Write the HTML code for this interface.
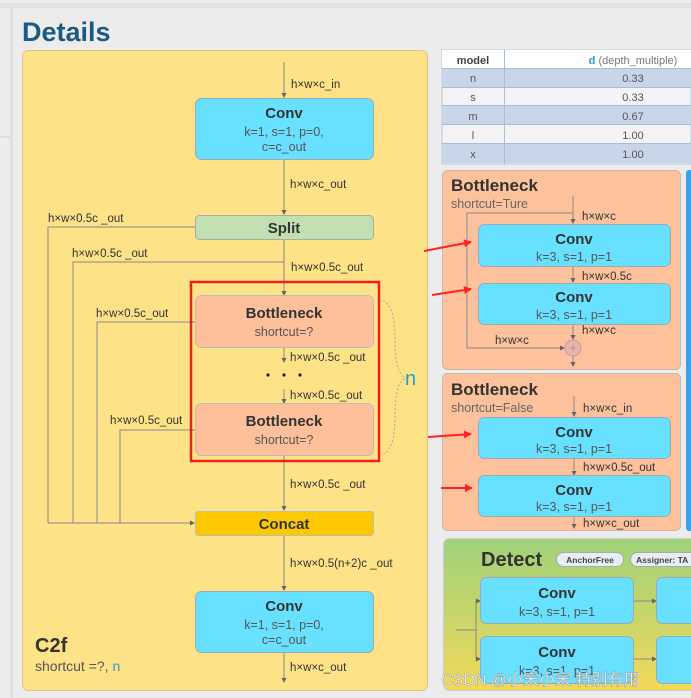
<!DOCTYPE html>
<html><head><meta charset="utf-8"><style>
html,body{margin:0;padding:0;background:#ececec;}
svg{display:block;font-family:"Liberation Sans","Noto Sans CJK SC",sans-serif;}
.l{font-size:11.5px;fill:#333;}
.b{font-weight:bold;fill:#333;}
.s{fill:#555;font-size:12.5px;}
</style></head><body>
<svg width="691" height="698" viewBox="0 0 691 698" xmlns="http://www.w3.org/2000/svg">
<defs>
<linearGradient id="g" x1="0" y1="0" x2="0" y2="1"><stop offset="0" stop-color="#9fd27a"/><stop offset="1" stop-color="#f2d85a"/></linearGradient>
<marker id="a" markerWidth="5" markerHeight="5" refX="4" refY="2.5" orient="auto"><path d="M0,0L5,2.5L0,5z" fill="#666"/></marker>
<marker id="r" markerWidth="8" markerHeight="8" refX="7" refY="4" orient="auto" markerUnits="userSpaceOnUse"><path d="M0,0L8,4L0,8z" fill="#f22"/></marker>
</defs>
<rect x="0" y="0" width="691" height="698" fill="#ececec"/>
<rect x="0" y="3" width="691" height="5" fill="#e2e2e2"/>
<rect x="10" y="8" width="3" height="690" fill="#e0e0e0"/>
<rect x="0" y="136" width="10" height="2" fill="#e0e0e0"/>
<text x="22" y="41" font-size="27" font-weight="bold" fill="#1c5a85">Details</text>

<rect x="22.5" y="50.5" width="405" height="640" rx="6" fill="#fee287" stroke="#d8c58a"/>
<g stroke="#888" stroke-width="1" fill="none">
<line x1="284" y1="62" x2="284" y2="97" marker-end="url(#a)"/>
<line x1="284" y1="159" x2="284" y2="214" marker-end="url(#a)"/>
<line x1="284" y1="239" x2="284" y2="295" marker-end="url(#a)"/>
<line x1="284" y1="347" x2="284" y2="362" marker-end="url(#a)"/>
<line x1="284" y1="389" x2="284" y2="403" marker-end="url(#a)"/>
<line x1="284" y1="455" x2="284" y2="510" marker-end="url(#a)"/>
<line x1="284" y1="535" x2="284" y2="590" marker-end="url(#a)"/>
<line x1="284" y1="652" x2="284" y2="682" marker-end="url(#a)"/>
<polyline points="195,227 48,227 48,523"/>
<polyline points="284,262 73,262 73,523"/>
<polyline points="195,322 97,322 97,523"/>
<polyline points="195,430 120,430 120,523"/>
<line x1="48" y1="523" x2="194" y2="523" marker-end="url(#a)"/>
<path d="M379,300 Q395,300 395,340 Q395,378 408,378 M379,455 Q395,455 395,416 Q395,378 408,378" stroke="#aaa" stroke-dasharray="2,2"/>
</g>
<rect x="195.5" y="98.5" width="178" height="61" rx="6" fill="#67e1ff" stroke="#9ab"/>
<text x="284" y="118" text-anchor="middle" font-size="15" class="b">Conv</text>
<text x="284" y="136" text-anchor="middle" class="s">k=1, s=1, p=0,</text>
<text x="284" y="151" text-anchor="middle" class="s">c=c_out</text>
<rect x="195.5" y="215.5" width="178" height="24" rx="4" fill="#c1e0b2" stroke="#aaa"/>
<text x="284" y="233" text-anchor="middle" font-size="15" class="b">Split</text>
<rect x="195.5" y="295.5" width="178" height="52" rx="6" fill="#fdc09a" stroke="#bbb"/>
<text x="284" y="318" text-anchor="middle" font-size="15" class="b">Bottleneck</text>
<text x="284" y="336" text-anchor="middle" class="s">shortcut=?</text>
<rect x="195.5" y="403.5" width="178" height="52" rx="6" fill="#fdc09a" stroke="#bbb"/>
<text x="284" y="426" text-anchor="middle" font-size="15" class="b">Bottleneck</text>
<text x="284" y="444" text-anchor="middle" class="s">shortcut=?</text>
<rect x="191" y="282" width="188" height="179" fill="none" stroke="#f21d1d" stroke-width="2.5"/>
<circle cx="268" cy="375" r="1.6" fill="#222"/><circle cx="284" cy="375" r="1.6" fill="#222"/><circle cx="300" cy="375" r="1.6" fill="#222"/>
<rect x="195.5" y="511.5" width="178" height="24" rx="3" fill="#fcc800" stroke="#bbb"/>
<text x="284" y="529" text-anchor="middle" font-size="15" class="b">Concat</text>
<rect x="195.5" y="591.5" width="178" height="61" rx="6" fill="#67e1ff" stroke="#9ab"/>
<text x="284" y="611" text-anchor="middle" font-size="15" class="b">Conv</text>
<text x="284" y="629" text-anchor="middle" class="s">k=1, s=1, p=0,</text>
<text x="284" y="644" text-anchor="middle" class="s">c=c_out</text>
<g class="l">
<text x="291" y="88">h×w×c_in</text>
<text x="290" y="188">h×w×c_out</text>
<text x="48" y="222">h×w×0.5c _out</text>
<text x="72" y="257">h×w×0.5c _out</text>
<text x="291" y="271">h×w×0.5c_out</text>
<text x="96" y="317">h×w×0.5c_out</text>
<text x="290" y="361">h×w×0.5c _out</text>
<text x="290" y="399">h×w×0.5c_out</text>
<text x="110" y="424">h×w×0.5c_out</text>
<text x="290" y="488">h×w×0.5c _out</text>
<text x="290" y="567">h×w×0.5(n+2)c _out</text>
<text x="290" y="671">h×w×c_out</text>
</g>
<text x="405" y="385" font-size="20" fill="#2a9ccc">n</text>
<text x="35" y="652" font-size="20" class="b">C2f</text>
<text x="35" y="671" font-size="14" fill="#555">shortcut =?, <tspan fill="#2a9ccc">n</tspan></text>

<rect x="442" y="50" width="249" height="114" fill="#f3f3f3" stroke="#b8c8e0"/>
<rect x="442" y="50" width="249" height="18" fill="#fff"/>
<rect x="442" y="69" width="249" height="18" fill="#c9d6ea"/>
<rect x="442" y="106" width="249" height="18" fill="#c9d6ea"/>
<rect x="442" y="144" width="249" height="19" fill="#c9d6ea"/>
<g stroke="#a8bcdc"><line x1="442" y1="68.5" x2="691" y2="68.5"/><line x1="442" y1="87.5" x2="691" y2="87.5"/><line x1="442" y1="105.5" x2="691" y2="105.5"/><line x1="442" y1="124.5" x2="691" y2="124.5"/><line x1="442" y1="143.5" x2="691" y2="143.5"/><line x1="504.5" y1="50" x2="504.5" y2="164"/></g>
<g font-size="11" fill="#555" text-anchor="middle">
<text x="473" y="64" font-weight="bold" fill="#444">model</text>
<text x="633" y="64" fill="#777"><tspan fill="#2a9ccc" font-weight="bold">d</tspan> (depth_multiple)</text>
<text x="473" y="82">n</text><text x="633" y="82">0.33</text>
<text x="473" y="101">s</text><text x="633" y="101">0.33</text>
<text x="473" y="120">m</text><text x="633" y="120">0.67</text>
<text x="473" y="139">l</text><text x="633" y="139">1.00</text>
<text x="473" y="158">x</text><text x="633" y="158">1.00</text>
</g>

<rect x="686" y="170" width="8" height="361" rx="3" fill="#3aa0e8"/>
<rect x="442.5" y="170.5" width="238" height="199" rx="5" fill="#fdc29c" stroke="#d0b8a8"/>
<text x="451" y="191" font-size="17" class="b">Bottleneck</text>
<text x="451" y="208" font-size="12.5" fill="#666">shortcut=Ture</text>
<g stroke="#888" fill="none">
<line x1="573" y1="196" x2="573" y2="223" marker-end="url(#a)"/>
<line x1="573" y1="266" x2="573" y2="282" marker-end="url(#a)"/>
<line x1="573" y1="324" x2="573" y2="339" marker-end="url(#a)"/>
<line x1="573" y1="356" x2="573" y2="366" marker-end="url(#a)"/>
<polyline points="573,213 467,213 467,348 564,348" marker-end="url(#a)"/>
</g>
<circle cx="573" cy="348" r="8" fill="#e8b4b0" stroke="#c99"/>
<text x="573" y="352" text-anchor="middle" font-size="13" fill="#b88">+</text>
<rect x="478.5" y="224.5" width="192" height="42" rx="6" fill="#67e1ff" stroke="#9ab"/>
<text x="574" y="244" text-anchor="middle" font-size="15" class="b">Conv</text>
<text x="574" y="261" text-anchor="middle" class="s">k=3, s=1, p=1</text>
<rect x="478.5" y="283.5" width="192" height="41" rx="6" fill="#67e1ff" stroke="#9ab"/>
<text x="574" y="302" text-anchor="middle" font-size="15" class="b">Conv</text>
<text x="574" y="319" text-anchor="middle" class="s">k=3, s=1, p=1</text>
<g class="l"><text x="582" y="220">h×w×c</text><text x="582" y="280">h×w×0.5c</text><text x="582" y="334">h×w×c</text><text x="495" y="344">h×w×c</text></g>

<rect x="442.5" y="373.5" width="238" height="157" rx="5" fill="#fdc29c" stroke="#d0b8a8"/>
<text x="451" y="395" font-size="17" class="b">Bottleneck</text>
<text x="451" y="412" font-size="12.5" fill="#666">shortcut=False</text>
<g stroke="#888" fill="none">
<line x1="574" y1="396" x2="574" y2="416" marker-end="url(#a)"/>
<line x1="574" y1="458" x2="574" y2="475" marker-end="url(#a)"/>
<line x1="574" y1="516" x2="574" y2="528" marker-end="url(#a)"/>
</g>
<rect x="478.5" y="417.5" width="192" height="41" rx="6" fill="#67e1ff" stroke="#9ab"/>
<text x="574" y="437" text-anchor="middle" font-size="15" class="b">Conv</text>
<text x="574" y="453" text-anchor="middle" class="s">k=3, s=1, p=1</text>
<rect x="478.5" y="475.5" width="192" height="41" rx="6" fill="#67e1ff" stroke="#9ab"/>
<text x="574" y="495" text-anchor="middle" font-size="15" class="b">Conv</text>
<text x="574" y="511" text-anchor="middle" class="s">k=3, s=1, p=1</text>
<g class="l"><text x="583" y="412">h×w×c_in</text><text x="583" y="471">h×w×0.5c_out</text><text x="583" y="527">h×w×c_out</text></g>

<g stroke="#f22" stroke-width="2">
<line x1="424" y1="251" x2="471" y2="242" marker-end="url(#r)"/>
<line x1="432" y1="295" x2="471" y2="289" marker-end="url(#r)"/>
<line x1="428" y1="437" x2="471" y2="434" marker-end="url(#r)"/>
<line x1="441" y1="488" x2="472" y2="488" marker-end="url(#r)"/>
</g>

<rect x="443.5" y="538.5" width="252" height="152" rx="6" fill="url(#g)" stroke="#ccc"/>
<text x="481" y="566" font-size="20" class="b">Detect</text>
<rect x="556.5" y="552.5" width="67" height="14" rx="7" fill="#e8eef5" stroke="#aaa"/>
<text x="590" y="563" text-anchor="middle" font-size="8.5" font-weight="bold" fill="#444">AnchorFree</text>
<rect x="630.5" y="552.5" width="70" height="14" rx="7" fill="#e8eef5" stroke="#aaa"/>
<text x="636" y="563" font-size="8.5" font-weight="bold" fill="#444">Assigner: TA</text>
<g stroke="#888" fill="none">
<polyline points="456,630 476,630"/>
<polyline points="476,601 476,659"/>
<line x1="476" y1="601" x2="480" y2="601" marker-end="url(#a)"/>
<line x1="476" y1="659" x2="480" y2="659" marker-end="url(#a)"/>
<line x1="633" y1="601" x2="656" y2="601" marker-end="url(#a)"/>
<line x1="633" y1="659" x2="656" y2="659" marker-end="url(#a)"/>
</g>
<rect x="480.5" y="577.5" width="153" height="46" rx="6" fill="#67e1ff" stroke="#9ab"/>
<text x="557" y="598" text-anchor="middle" font-size="15" class="b">Conv</text>
<text x="557" y="616" text-anchor="middle" class="s">k=3, s=1, p=1</text>
<rect x="480.5" y="636.5" width="153" height="47" rx="6" fill="#67e1ff" stroke="#9ab"/>
<text x="557" y="657" text-anchor="middle" font-size="15" class="b">Conv</text>
<text x="557" y="675" text-anchor="middle" class="s">k=3, s=1, p=1</text>
<rect x="656.5" y="577.5" width="45" height="46" rx="6" fill="#67e1ff" stroke="#9ab"/>
<rect x="656.5" y="636.5" width="45" height="47" rx="6" fill="#67e1ff" stroke="#9ab"/>
<text x="441" y="685" font-size="16" fill="#fff" stroke="#888" stroke-width="0.4">CSDN @小宋小宋 特别有用</text>
</svg>
</body></html>
